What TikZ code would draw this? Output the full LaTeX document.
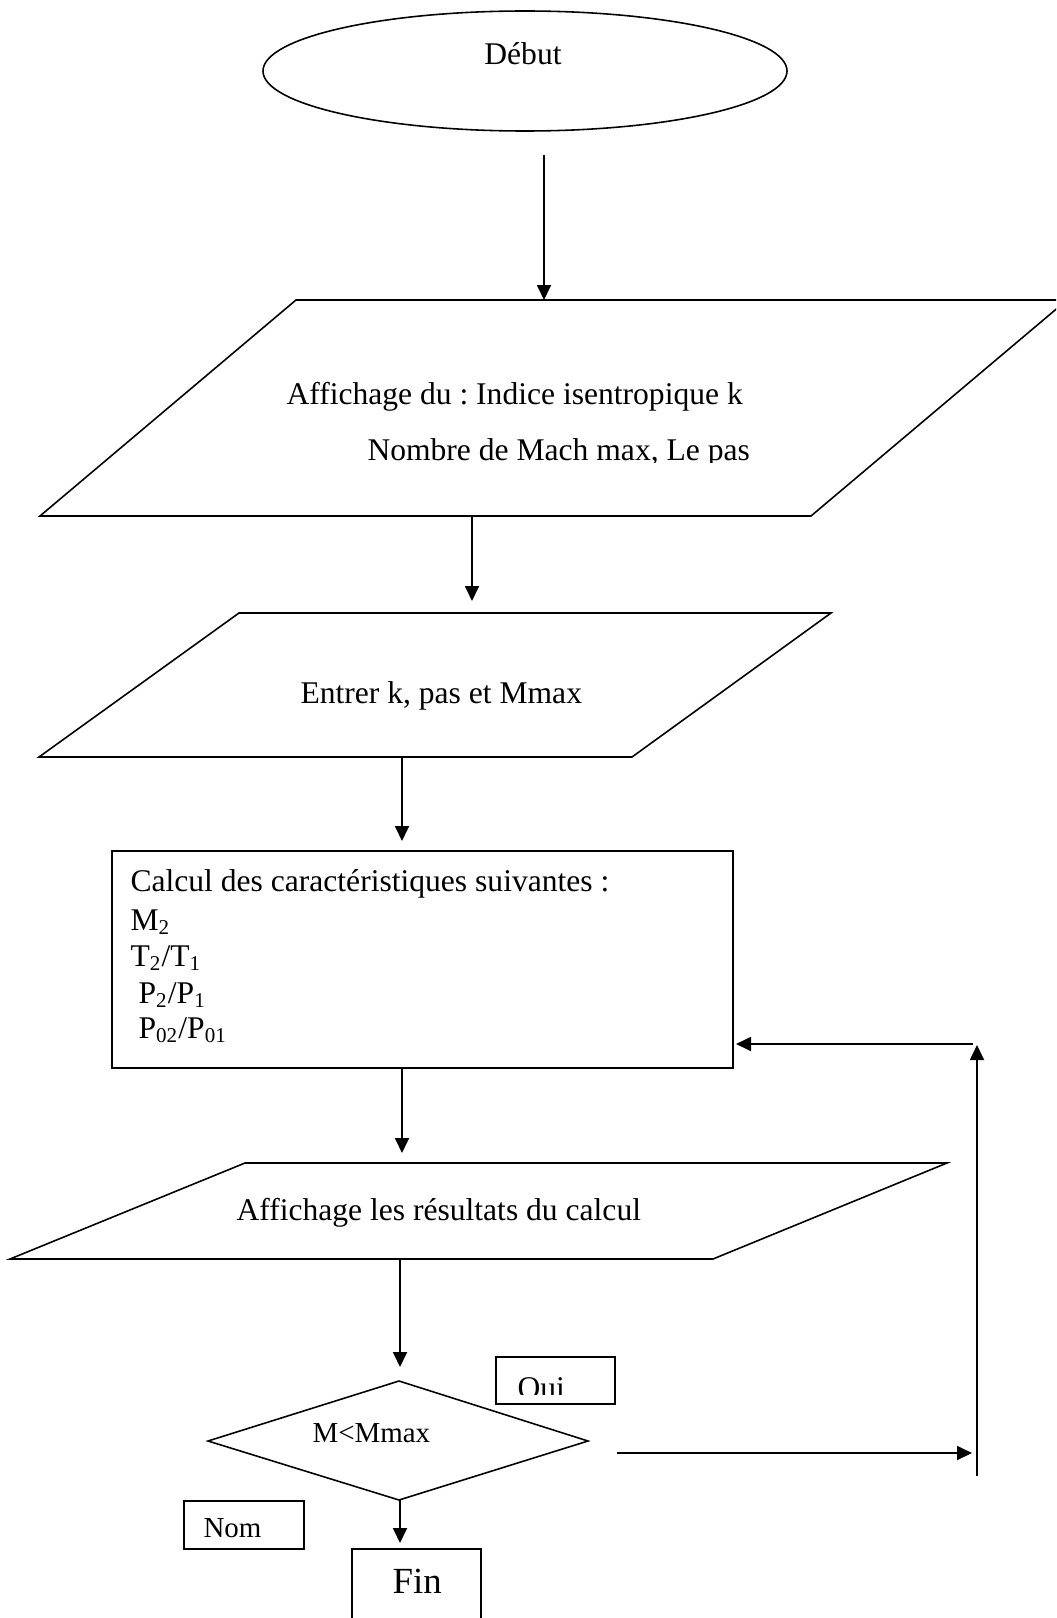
\documentclass[tikz,border=0pt]{standalone}
\usepackage{fontspec}
\setmainfont{Liberation Serif}
\usepackage{tikz}
\usetikzlibrary{arrows.meta}
\frenchspacing

\tikzset{
  flow/.style={line width=0.6pt},
  link/.style={->, line width=0.75pt},
  txt/.style={inner sep=0pt, font=\fontsize{12}{13.9}\selectfont},
  smalltxt/.style={inner sep=0pt, font=\fontsize{11}{13}\selectfont},
}

\begin{document}
\begin{tikzpicture}[x=0.38pt, y=-0.38pt, >={Triangle[length=5.7pt,width=5.3pt]}]
  \clip (0,0) rectangle (1056,1618);

  % ---------------- start ----------------
  \draw[flow] (525,71) ellipse [x radius=262, y radius=60];
  \node[txt, anchor=base] (debut) at (523,65) {Début};
  \coordinate (debut-out) at (544,155);

  % ---------------- first output: parameters shown ----------------
  \draw[flow] (40,516) -- (296,300) -- (1067,300) -- (811,516) -- cycle;
  \coordinate (aff-in)  at (544,300);
  \coordinate (aff-out) at (472,516);
  \node[txt, anchor=base west] (aff1) at (286,404) {Affichage du : Indice isentropique k};
  \begin{scope}
    \clip (300,420) rectangle (800,462);
    \node[txt, anchor=base west] (aff2) at (367,460) {Nombre de Mach max, Le pas};
  \end{scope}

  % ---------------- input ----------------
  \draw[flow] (39,757) -- (239,613) -- (831,613) -- (632,757) -- cycle;
  \coordinate (ent-in)  at (472,601);
  \coordinate (ent-out) at (402,757);
  \node[txt, anchor=base west] (entrer) at (300,703) {Entrer k, pas et Mmax};

  % ---------------- computation ----------------
  \draw[flow] (112,851) rectangle (733,1068);
  \coordinate (calc-in)  at (402,841);
  \coordinate (calc-out) at (402,1068);
  \coordinate (calc-back) at (736,1044);
  \node[txt, anchor=base west] (calc1) at (130,891) {Calcul des caractéristiques suivantes :};
  \node[txt, anchor=base west] (calc2) at (130,930) {M\textsubscript{2}};
  \node[txt, anchor=base west] (calc3) at (130,966) {T\textsubscript{2}/T\textsubscript{1}};
  \node[txt, anchor=base west] (calc4) at (138,1003) {P\textsubscript{2}/P\textsubscript{1}};
  \node[txt, anchor=base west] (calc5) at (138,1038) {P\textsubscript{02}/P\textsubscript{01}};

  % ---------------- results ----------------
  \draw[flow] (10,1259) -- (245,1163) -- (947,1163) -- (713,1259) -- cycle;
  \coordinate (res-in)  at (402,1153);
  \coordinate (res-out) at (400,1259);
  \node[txt, anchor=base west] (res) at (236,1220) {Affichage les résultats du calcul};

  % ---------------- test ----------------
  \draw[flow] (399,1381) -- (588,1441) -- (399,1500) -- (208,1441) -- cycle;
  \coordinate (test-in)  at (400,1367);
  \coordinate (test-out) at (400,1500);
  \node[smalltxt, anchor=base west] (test) at (312,1442) {M<Mmax};

  \draw[flow] (496,1357) rectangle (615,1404);
  \begin{scope}
    \clip (496,1357) rectangle (615,1394);
    \node[txt, anchor=base west] (oui) at (517,1398) {Oui};
  \end{scope}
  \draw[flow] (184,1501) rectangle (304,1549);
  \node[smalltxt, anchor=base west] (nom) at (203,1537) {Nom};

  % ---------------- end ----------------
  \draw[flow] (352,1630) |- (481,1549) -- (481,1630);
  \coordinate (fin-in) at (400,1543);
  \node[inner sep=0pt, font=\fontsize{14}{16}\selectfont, anchor=base west] (fin) at (392,1593) {Fin};

  % ---------------- main line ----------------
  \draw[link] (debut-out) -- (aff-in);
  \draw[link] (aff-out) -- (ent-in);
  \draw[link] (ent-out) -- (calc-in);
  \draw[link] (calc-out) -- (res-in);
  \draw[link] (res-out) -- (test-in);
  \draw[link] (test-out) -- (fin-in);

  % ---------------- loop back ----------------
  \coordinate (loop-start) at (617,1453);
  \coordinate (loop-right) at (972,1453);
  \coordinate (loop-bot)   at (977,1476);
  \coordinate (loop-top)   at (977,1045);
  \coordinate (loop-back)  at (973,1044);
  \draw[link] (loop-start) -- (loop-right);
  \draw[link] (loop-bot) -- (loop-top);
  \draw[link] (loop-back) -- (calc-back);
\end{tikzpicture}
\end{document}
